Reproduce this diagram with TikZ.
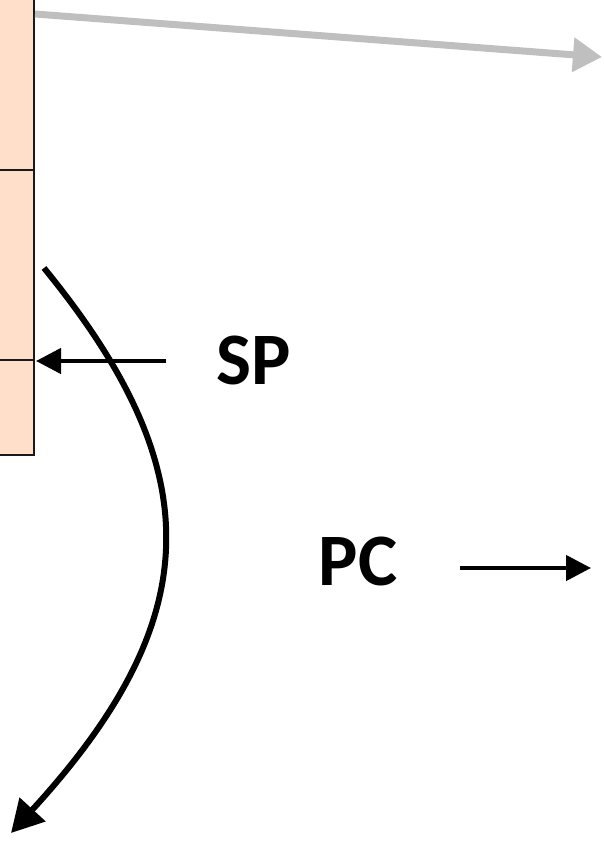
\documentclass[tikz,border=0pt]{standalone}
\usepackage{fontspec}
\setmainfont{Carlito}
\usetikzlibrary{arrows.meta}
\definecolor{peach}{RGB}{255,222,202}
\definecolor{lgray}{RGB}{191,191,191}
\tikzset{
  cell/.style={draw=black!90, line width=1.8pt, fill=peach},
  lbl/.style={font=\fontsize{74}{74}\selectfont\bfseries, inner sep=0pt},
  blackarrow/.style={draw=black, line width=4.5pt, -{Triangle[length=25pt,width=25pt]}},
  bigcurve/.style={draw=black, line width=6pt, -{Triangle[length=32pt,width=34pt]}},
  grayarrow/.style={draw=lgray, line width=7pt, -{Triangle[length=29pt,width=33pt]}}
}
\begin{document}
\begin{tikzpicture}[x=1pt,y=-1pt]
\useasboundingbox (0,0) rectangle (603,841);
% column of cells
\draw[cell] (-3,-3) rectangle (34,170);
\draw[cell] (-3,170) rectangle (34,360);
\draw[cell] (-3,360) rectangle (34,455);
% labels
\node[lbl] (sp) at (254,360) {SP};
\node[lbl] (pc) at (358,561) {PC};
% coordinates
\coordinate (gs) at (35,14);
\coordinate (ge) at (602,57);
\coordinate (sps) at (166,361);
\coordinate (spe) at (36,361);
\coordinate (pcs) at (460,568);
\coordinate (pce) at (591,568);
\coordinate (cs) at (44,268);
\coordinate (ce) at (11,833);
% arrows
\draw[grayarrow] (gs) -- (ge);
\draw[blackarrow] (sps) -- (spe);
\draw[blackarrow] (pcs) -- (pce);
\draw[bigcurve] (cs) .. controls (209,470) and (209,617) .. (ce);
\end{tikzpicture}
\end{document}
